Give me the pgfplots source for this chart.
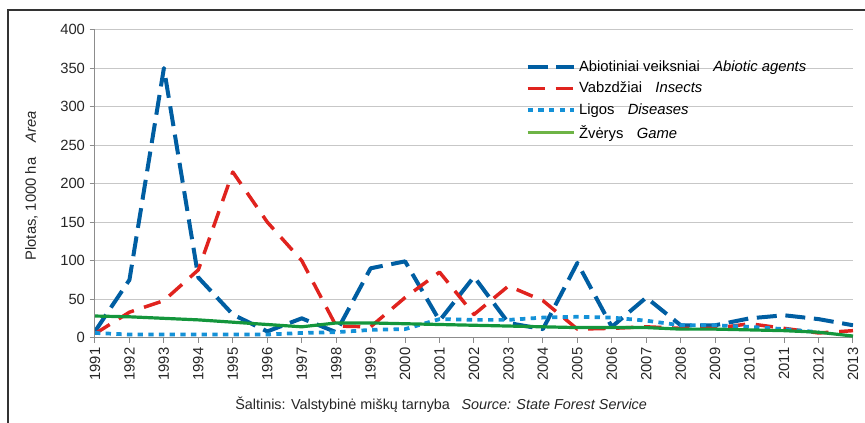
\documentclass[border=0pt]{standalone}
\usepackage{pgfplots}
\pgfplotsset{compat=1.18}
\usepackage{fontspec}
\setmainfont{Liberation Sans}

\definecolor{cAbio}{RGB}{0,94,162}
\definecolor{cIns}{RGB}{224,35,30}
\definecolor{cDis}{RGB}{20,145,215}
\definecolor{cGame}{RGB}{20,150,60}
\definecolor{cGameL}{RGB}{110,180,70}

\newcommand{\chartfont}{\fontsize{11.1}{13}\selectfont}

\begin{document}
\begin{tikzpicture}
% page size: 865x423 px at 0.75pt per px, origin at the axis corner
\useasboundingbox (-71.25pt,-64.05pt) rectangle (577.5pt,253.2pt);
\draw[black!80, line width=1.1pt] (-65.25pt,-64.05pt) -- (-65.25pt,245.7pt) -- (577.5pt,245.7pt);

\begin{axis}[
    at={(0pt,0pt)}, anchor=origin,
    scale only axis,
    width=568.5pt, height=231pt,
    xmin=1991, xmax=2013,
    ymin=0, ymax=400,
    xtick={1991,...,2013},
    ytick={0,50,...,400},
    axis x line*=bottom,
    axis y line*=left,
    axis line style={black!45, line width=0.75pt},
    tick style={black!45, line width=0.75pt},
    major tick length=4pt,
    tick align=outside,
    ymajorgrids,
    grid style={black!22, line width=0.75pt},
    tick label style={font=\chartfont, text=black!85},
    x tick label style={rotate=90, anchor=east},
    /pgf/number format/1000 sep={},
    /pgf/number format/assume math mode=true,
    legend style={at={(0.5626,0.9175)}, anchor=north west, draw=none, fill=none,
        font=\chartfont, row sep=2.6pt, cells={anchor=west}},
    legend image code/.code={\draw[#1] (0pt,0pt) -- (35pt,0pt);},
    line join=round,
]
\addplot[cAbio, line width=3pt, dash pattern=on 15pt off 6.5pt] coordinates {
(1991,8) (1992,75) (1993,350) (1994,78) (1995,30) (1996,8) (1997,25) (1998,7)
(1999,90) (2000,99) (2001,22) (2002,79) (2003,19) (2004,11) (2005,97) (2006,14)
(2007,52) (2008,16) (2009,16) (2010,25) (2011,29) (2012,24) (2013,16)
};
\addlegendentry{Abiotiniai veiksniai\hspace{0.9em}\textit{Abiotic agents}}

\addplot[cIns, line width=2.6pt, dash pattern=on 13pt off 8pt] coordinates {
(1991,5) (1992,33) (1993,48) (1994,88) (1995,215) (1996,150) (1997,100) (1998,15)
(1999,14) (2000,52) (2001,85) (2002,30) (2003,67) (2004,48) (2005,11) (2006,12)
(2007,14) (2008,12) (2009,12) (2010,18) (2011,12) (2012,6) (2013,9)
};
\addlegendentry{Vabzdžiai\hspace{0.9em}\textit{Insects}}

\addplot[cDis, line width=2.8pt, dash pattern=on 4pt off 4pt] coordinates {
(1991,6) (1992,4) (1993,4) (1994,4) (1995,4) (1996,4) (1997,6) (1998,7)
(1999,10) (2000,11) (2001,24) (2002,23) (2003,23) (2004,26) (2005,27) (2006,26)
(2007,22) (2008,16) (2009,16) (2010,14) (2011,11) (2012,7)
};
\addlegendentry{Ligos\hspace{0.9em}\textit{Diseases}}

\addplot[cGame, line width=2.4pt, legend image post style={cGameL}] coordinates {
(1991,28) (1992,27) (1993,25) (1994,23) (1995,20) (1996,17) (1997,14) (1998,19)
(1999,19) (2000,18) (2001,17) (2002,16) (2003,15) (2004,14) (2005,13) (2006,13)
(2007,13) (2008,11) (2009,11) (2010,10) (2011,9) (2012,7) (2013,2)
};
\addlegendentry{Žvėrys\hspace{0.9em}\textit{Game}}
\end{axis}

\node[rotate=90, font=\chartfont, text=black!85] at (-47.6pt,113.7pt)
    {Plotas, 1000 ha\hspace{1em}\textit{Area}};
\node[anchor=west, inner sep=0pt, font=\fontsize{10.8}{13}\selectfont, text=black!85] at (105pt,-50.5pt)
    {Šaltinis: Valstybinė miškų tarnyba\hspace{0.8em}\textit{Source: State Forest Service}};
\end{tikzpicture}
\end{document}
